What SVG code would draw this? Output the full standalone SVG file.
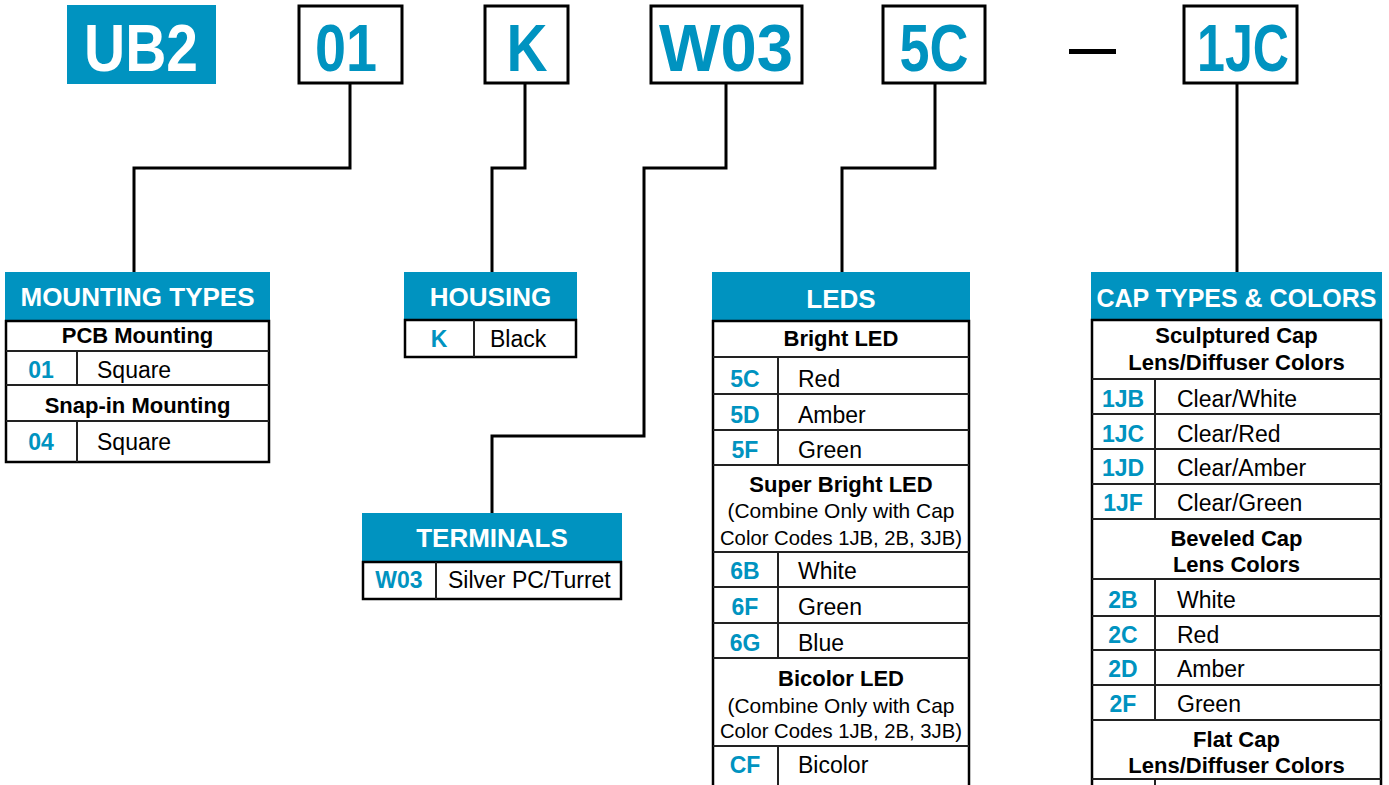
<svg xmlns="http://www.w3.org/2000/svg" width="1389" height="785" viewBox="0 0 1389 785">
<style>
text{font-family:"Liberation Sans",Arial,sans-serif}
.big{font-size:66px;font-weight:bold;fill:#0093C0;text-anchor:middle}
.code{fill:none;stroke:#000;stroke-width:3}
.hdr{fill:#0093C0}
.ht{font-size:26px;font-weight:bold;fill:#fff;text-anchor:middle}
.tb{fill:#fff;stroke:#000;stroke-width:2.5}
.rl{stroke:#222;stroke-width:2}
.sub{font-size:22px;font-weight:bold;fill:#000;text-anchor:middle}
.note{font-size:21px;fill:#000;text-anchor:middle}
.cd{font-size:23px;font-weight:bold;fill:#0093C0;text-anchor:middle}
.tx{font-size:23px;fill:#000}
.con{fill:none;stroke:#000;stroke-width:3}
</style>
<rect width="1389" height="785" fill="#fff"/>

<g id="part-number">
<rect x="67" y="5" width="149" height="79" fill="#0093C0"/>
<text x="141" y="71" class="big" style="fill:#fff" textLength="114" lengthAdjust="spacingAndGlyphs">UB2</text>
<rect x="299" y="6" width="103" height="77" class="code"/>
<text x="346" y="71" class="big" textLength="62" lengthAdjust="spacingAndGlyphs">01</text>
<rect x="485" y="6" width="83" height="77" class="code"/>
<text x="527" y="71" class="big" textLength="41" lengthAdjust="spacingAndGlyphs">K</text>
<rect x="651" y="6" width="151" height="77" class="code"/>
<text x="726" y="71" class="big" textLength="134" lengthAdjust="spacingAndGlyphs">W03</text>
<rect x="883" y="6" width="102" height="77" class="code"/>
<text x="934" y="71" class="big" textLength="69" lengthAdjust="spacingAndGlyphs">5C</text>
<rect x="1069" y="49" width="47" height="5" fill="#000"/>
<rect x="1184" y="6" width="113" height="77" class="code"/>
<text x="1243" y="71" class="big" textLength="92" lengthAdjust="spacingAndGlyphs">1JC</text>
</g>

<g id="connectors">
<polyline class="con" points="350,83 350,168 134,168 134,272"/>
<polyline class="con" points="525,83 525,168 492,168 492,272"/>
<polyline class="con" points="726,83 726,168 644,168 644,436 492,436 492,513"/>
<polyline class="con" points="935,83 935,168 842,168 842,272"/>
<polyline class="con" points="1237,83 1237,272"/>
</g>

<g id="mounting-types">
<rect x="5" y="272" width="265" height="49" class="hdr"/>
<text x="137.5" y="306" class="ht">MOUNTING TYPES</text>
<rect x="6" y="321" width="263" height="141" class="tb"/>
<line x1="6" y1="351" x2="269" y2="351" class="rl"/>
<line x1="6" y1="385" x2="269" y2="385" class="rl"/>
<line x1="6" y1="421" x2="269" y2="421" class="rl"/>
<line x1="77" y1="351" x2="77" y2="385" class="rl"/>
<line x1="77" y1="421" x2="77" y2="462" class="rl"/>
<text x="137.5" y="343" class="sub">PCB Mounting</text>
<text x="41" y="378" class="cd">01</text>
<text x="97" y="378" class="tx">Square</text>
<text x="137.5" y="413" class="sub">Snap-in Mounting</text>
<text x="41" y="450" class="cd">04</text>
<text x="97" y="450" class="tx">Square</text>
</g>

<g id="housing">
<rect x="404" y="272" width="173" height="48" class="hdr"/>
<text x="490.5" y="306" class="ht">HOUSING</text>
<rect x="405" y="320" width="171" height="37" class="tb"/>
<line x1="474" y1="320" x2="474" y2="357" class="rl"/>
<text x="439" y="347" class="cd">K</text>
<text x="490" y="347" class="tx">Black</text>
</g>

<g id="terminals">
<rect x="362" y="513" width="260" height="49" class="hdr"/>
<text x="492" y="547" class="ht">TERMINALS</text>
<rect x="363" y="562" width="258" height="37" class="tb"/>
<line x1="436" y1="562" x2="436" y2="599" class="rl"/>
<text x="399" y="588" class="cd">W03</text>
<text x="448" y="588" class="tx">Silver PC/Turret</text>
</g>

<g id="leds">
<rect x="712" y="272" width="258" height="49" class="hdr"/>
<text x="841" y="308" class="ht">LEDS</text>
<rect x="713" y="321" width="256" height="480" class="tb"/>
<line x1="713" y1="357" x2="969" y2="357" class="rl"/>
<line x1="713" y1="394" x2="969" y2="394" class="rl"/>
<line x1="713" y1="430" x2="969" y2="430" class="rl"/>
<line x1="713" y1="465" x2="969" y2="465" class="rl"/>
<line x1="713" y1="552" x2="969" y2="552" class="rl"/>
<line x1="713" y1="587" x2="969" y2="587" class="rl"/>
<line x1="713" y1="623" x2="969" y2="623" class="rl"/>
<line x1="713" y1="658" x2="969" y2="658" class="rl"/>
<line x1="713" y1="746" x2="969" y2="746" class="rl"/>
<line x1="778" y1="357" x2="778" y2="465" class="rl"/>
<line x1="778" y1="552" x2="778" y2="658" class="rl"/>
<line x1="778" y1="746" x2="778" y2="790" class="rl"/>
<text x="841" y="346" class="sub">Bright LED</text>
<text x="745" y="387" class="cd">5C</text><text x="798" y="387" class="tx">Red</text>
<text x="745" y="423" class="cd">5D</text><text x="798" y="423" class="tx">Amber</text>
<text x="745" y="458" class="cd">5F</text><text x="798" y="458" class="tx">Green</text>
<text x="841" y="492" class="sub">Super Bright LED</text>
<text x="841" y="518" class="note" textLength="227" lengthAdjust="spacingAndGlyphs">(Combine Only with Cap</text>
<text x="841" y="545" class="note" textLength="242" lengthAdjust="spacingAndGlyphs">Color Codes 1JB, 2B, 3JB)</text>
<text x="745" y="579" class="cd">6B</text><text x="798" y="579" class="tx">White</text>
<text x="745" y="615" class="cd">6F</text><text x="798" y="615" class="tx">Green</text>
<text x="745" y="651" class="cd">6G</text><text x="798" y="651" class="tx">Blue</text>
<text x="841" y="686" class="sub">Bicolor LED</text>
<text x="841" y="713" class="note" textLength="227" lengthAdjust="spacingAndGlyphs">(Combine Only with Cap</text>
<text x="841" y="738" class="note" textLength="242" lengthAdjust="spacingAndGlyphs">Color Codes 1JB, 2B, 3JB)</text>
<text x="745" y="773" class="cd">CF</text><text x="798" y="773" class="tx">Bicolor</text>
</g>

<g id="cap-types">
<rect x="1091" y="272" width="291" height="48" class="hdr"/>
<text x="1236.5" y="307" class="ht" textLength="280" lengthAdjust="spacingAndGlyphs">CAP TYPES &amp; COLORS</text>
<rect x="1092" y="320" width="289" height="480" class="tb"/>
<line x1="1092" y1="379" x2="1381" y2="379" class="rl"/>
<line x1="1092" y1="414" x2="1381" y2="414" class="rl"/>
<line x1="1092" y1="449" x2="1381" y2="449" class="rl"/>
<line x1="1092" y1="484" x2="1381" y2="484" class="rl"/>
<line x1="1092" y1="519" x2="1381" y2="519" class="rl"/>
<line x1="1092" y1="579" x2="1381" y2="579" class="rl"/>
<line x1="1092" y1="616" x2="1381" y2="616" class="rl"/>
<line x1="1092" y1="650" x2="1381" y2="650" class="rl"/>
<line x1="1092" y1="685" x2="1381" y2="685" class="rl"/>
<line x1="1092" y1="720" x2="1381" y2="720" class="rl"/>
<line x1="1092" y1="779" x2="1381" y2="779" class="rl"/>
<line x1="1155" y1="379" x2="1155" y2="519" class="rl"/>
<line x1="1155" y1="579" x2="1155" y2="720" class="rl"/>
<line x1="1155" y1="779" x2="1155" y2="790" class="rl"/>
<text x="1236.5" y="343" class="sub">Sculptured Cap</text>
<text x="1236.5" y="370" class="sub">Lens/Diffuser Colors</text>
<text x="1123" y="407" class="cd">1JB</text><text x="1177" y="407" class="tx">Clear/White</text>
<text x="1123" y="442" class="cd">1JC</text><text x="1177" y="442" class="tx">Clear/Red</text>
<text x="1123" y="476" class="cd">1JD</text><text x="1177" y="476" class="tx">Clear/Amber</text>
<text x="1123" y="511" class="cd">1JF</text><text x="1177" y="511" class="tx">Clear/Green</text>
<text x="1236.5" y="546" class="sub">Beveled Cap</text>
<text x="1236.5" y="572" class="sub">Lens Colors</text>
<text x="1123" y="608" class="cd">2B</text><text x="1177" y="608" class="tx">White</text>
<text x="1123" y="643" class="cd">2C</text><text x="1177" y="643" class="tx">Red</text>
<text x="1123" y="677" class="cd">2D</text><text x="1177" y="677" class="tx">Amber</text>
<text x="1123" y="712" class="cd">2F</text><text x="1177" y="712" class="tx">Green</text>
<text x="1236.5" y="747" class="sub">Flat Cap</text>
<text x="1236.5" y="773" class="sub">Lens/Diffuser Colors</text>
</g>
</svg>
